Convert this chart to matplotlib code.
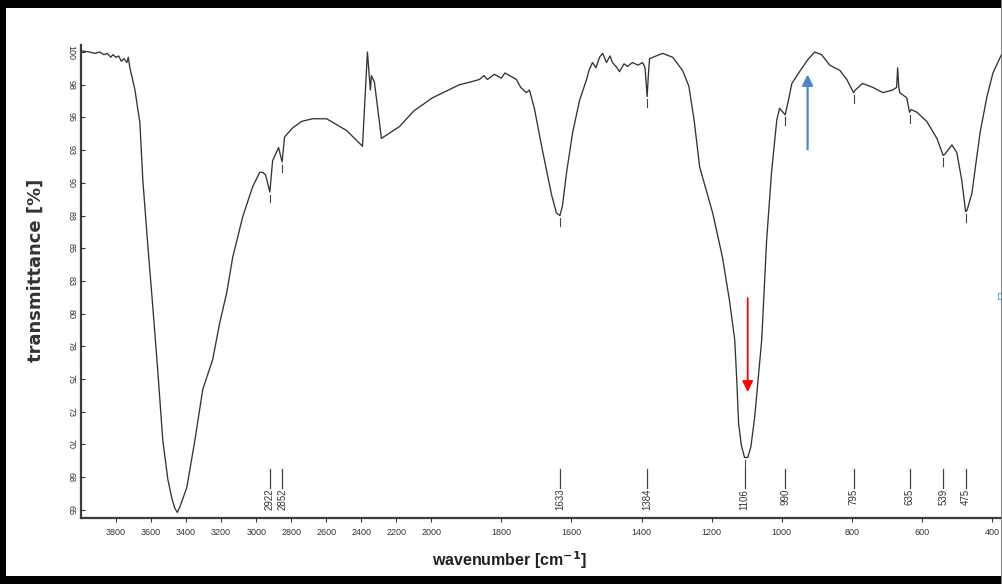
import numpy as np
import matplotlib
matplotlib.use("Agg")
import matplotlib.pyplot as plt
import matplotlib.patches as patches

# FTIR spectrum (wavenumber cm-1, transmittance %)
wavenumber = [4000, 3950, 3920, 3892, 3870, 3850, 3830, 3818, 3800, 3785, 3770, 3755,
              3738, 3730, 3721, 3692, 3664, 3647, 3618, 3590, 3561, 3533, 3504, 3480,
              3464, 3450, 3436, 3396, 3350, 3305, 3248, 3208, 3168, 3134, 3077, 3020,
              2980, 2963, 2946, 2922, 2906, 2872, 2852, 2838, 2792, 2740, 2678, 2598,
              2484, 2393, 2365, 2348, 2342, 2325, 2285, 2182, 2100, 1997, 1920, 1890,
              1863, 1850, 1840, 1820, 1800, 1790, 1777, 1757, 1745, 1729, 1720, 1706,
              1683, 1657, 1643, 1633, 1626, 1614, 1597, 1577, 1557, 1550, 1540, 1530,
              1520, 1511, 1500, 1490, 1483, 1470, 1463, 1450, 1440, 1426, 1410, 1397,
              1390, 1384, 1380, 1377, 1340, 1311, 1283, 1265, 1250, 1234, 1215, 1197,
              1169, 1149, 1134, 1128, 1123, 1115, 1106, 1097, 1088, 1077, 1057, 1043,
              1029, 1014, 1006, 990, 980, 971, 949, 926, 906, 886, 863, 834, 814, 797,
              795, 790, 769, 740, 711, 683, 672, 669, 666, 663, 643, 635, 630, 614,
              586, 557, 539, 534, 514, 500, 486, 475, 471, 457, 434, 414, 397, 371]
transmittance = [100.1, 100.0, 99.9, 100.0, 99.8, 99.9, 99.6, 99.8, 99.6, 99.7, 99.3, 99.5,
                 99.2, 99.6, 98.8, 97.1, 94.6, 90.2, 85.1, 80.5, 75.5, 70.3, 67.3, 65.8,
                 65.1, 64.8, 65.2, 66.7, 70.3, 74.2, 76.5, 79.3, 81.6, 84.3, 87.4, 89.7,
                 90.8, 90.8, 90.6, 89.3, 91.7, 92.7, 91.6, 93.5, 94.2, 94.7, 94.9, 94.9,
                 94.0, 92.8, 100.0, 97.1, 98.2, 97.7, 93.4, 94.3, 95.5, 96.5, 97.5, 97.7,
                 97.9, 98.2, 97.9, 98.3, 98.0, 98.4, 98.2, 97.9, 97.3, 96.9, 97.1, 95.7,
                 92.5, 89.1, 87.7, 87.5, 88.2, 90.8, 93.8, 96.3, 97.9, 98.6, 99.2, 98.8,
                 99.6, 99.9, 99.2, 99.7, 99.2, 98.8, 98.5, 99.1, 98.9, 99.2, 99.0, 99.2,
                 98.8, 96.6, 98.5, 99.5, 99.9, 99.6, 98.6, 97.4, 94.8, 91.2, 89.4, 87.7,
                 84.3, 81.0, 78.0, 74.8, 71.6, 69.9, 69.0, 69.0, 69.8, 72.1, 78.0, 85.6,
                 90.8, 94.8, 95.7, 95.2, 96.4, 97.6, 98.5, 99.4, 100.0, 99.8, 99.0, 98.6,
                 97.9, 97.0, 96.9, 97.1, 97.6, 97.3, 96.9, 97.1, 97.3, 98.8, 97.4, 96.9,
                 96.5, 95.4, 95.6, 95.4, 94.7, 93.4, 92.1, 92.2, 92.9, 92.3, 90.2, 87.8,
                 87.9, 89.2, 93.8, 96.6, 98.4, 99.9]

peak_labels = [2922, 2852, 1633, 1384, 1106, 990, 795, 635, 539, 475]
x_ticks = [3800, 3600, 3400, 3200, 3000, 2800, 2600, 2400, 2200, 2000,
           1800, 1600, 1400, 1200, 1000, 800, 600, 400]
y_ticks = [100, 97.5, 95, 92.5, 90, 87.5, 85, 82.5, 80, 77.5, 75, 72.5, 70, 67.5, 65]
y_tick_labels = ['100', '98', '95', '93', '90', '88', '85', '83', '80', '78',
                 '75', '73', '70', '68', '65']


def fwd(w):
    w = np.asarray(w, dtype=float)
    return np.where(w < 2000, w, 2000 + (w - 2000) / 2.0)


def inv(p):
    p = np.asarray(p, dtype=float)
    return np.where(p < 2000, p, 2000 + (p - 2000) * 2.0)


fig = plt.figure(figsize=(10.03, 5.84), dpi=100)
ax = fig.add_axes([81 / 1003, 66 / 584, 920 / 1003, 473 / 584])
ax.set_xscale('function', functions=(fwd, inv))

ax.plot(wavenumber, transmittance, color='#333333', lw=0.95)

ax.set_xlim(4000, 374)
ax.set_ylim(64.37, 100.54)

# peak picks: small dash under each minimum plus label at the bottom
wn_rev = wavenumber[::-1]
tr_rev = transmittance[::-1]
for p in peak_labels:
    t = np.interp(p, wn_rev, tr_rev)
    ax.plot([p, p], [t - 0.2, t - 0.8], color='#444444', lw=0.8)
    ax.plot([p, p], [68.1, 66.7], color='#444444', lw=0.9)
    ax.text(p, 66.6, str(p), rotation=90, ha='center', va='top',
            fontsize=7, color='#333333', family='Liberation Sans')

# arrows
ax.annotate('', xy=(1097, 73.8), xytext=(1097, 81.4),
            arrowprops=dict(arrowstyle='-|>', color='#ff0000', lw=1.3,
                            mutation_scale=16))
ax.annotate('', xy=(926, 98.5), xytext=(926, 92.35),
            arrowprops=dict(arrowstyle='-|>', color='#4a86cc', lw=1.6,
                            mutation_scale=16))

ax.set_xticks(x_ticks)
ax.set_xticklabels([str(v) for v in x_ticks], fontsize=6.5, color='#333333',
                   family='Liberation Sans')
ax.set_yticks(y_ticks)
ax.set_yticklabels(y_tick_labels, fontsize=6.5, color='#333333', rotation=-90,
                   va='center', family='Liberation Sans')
ax.tick_params(axis='x', direction='out', length=3, width=0.8, pad=4, colors='#333333')
ax.tick_params(axis='y', direction='in', length=3, width=0.8, pad=4, colors='#333333')

for s in ['top', 'right']:
    ax.spines[s].set_visible(False)
for s in ['left', 'bottom']:
    ax.spines[s].set_color('#3a3a3a')
    ax.spines[s].set_linewidth(1.6)

fig.text(36 / 1003, 1 - 270 / 584, 'transmittance [%]', rotation=90,
         ha='center', va='center', fontsize=13, fontweight='bold',
         color='#333333', family='DejaVu Sans')
fig.text(510 / 1003, 1 - 560 / 584, r'wavenumber [cm$^{\mathbf{-1}}$]',
         ha='center', va='center', fontsize=11.5, fontweight='bold',
         color='#222222', family='Liberation Sans')

# small artefact square at right edge
fig.patches.append(patches.Rectangle((998 / 1003, 1 - 299 / 584), 4 / 1003, 6 / 584,
                                     transform=fig.transFigure, fill=False,
                                     edgecolor='#6aa8d8', lw=0.8))

# black frame around the picture
frame = [((0, 1 - 8 / 584), 1, 8 / 584, 'black'),
         ((0, 0), 6 / 1003, 1, 'black'),
         ((0, 0), 1, 8 / 584, 'black'),
         ((1001 / 1003, 0), 2 / 1003, 1, '#808080')]
for xy, w, h, c in frame:
    fig.patches.append(patches.Rectangle(xy, w, h, transform=fig.transFigure,
                                         facecolor=c, edgecolor='none', zorder=10))

fig.savefig('out.png', dpi=100)
